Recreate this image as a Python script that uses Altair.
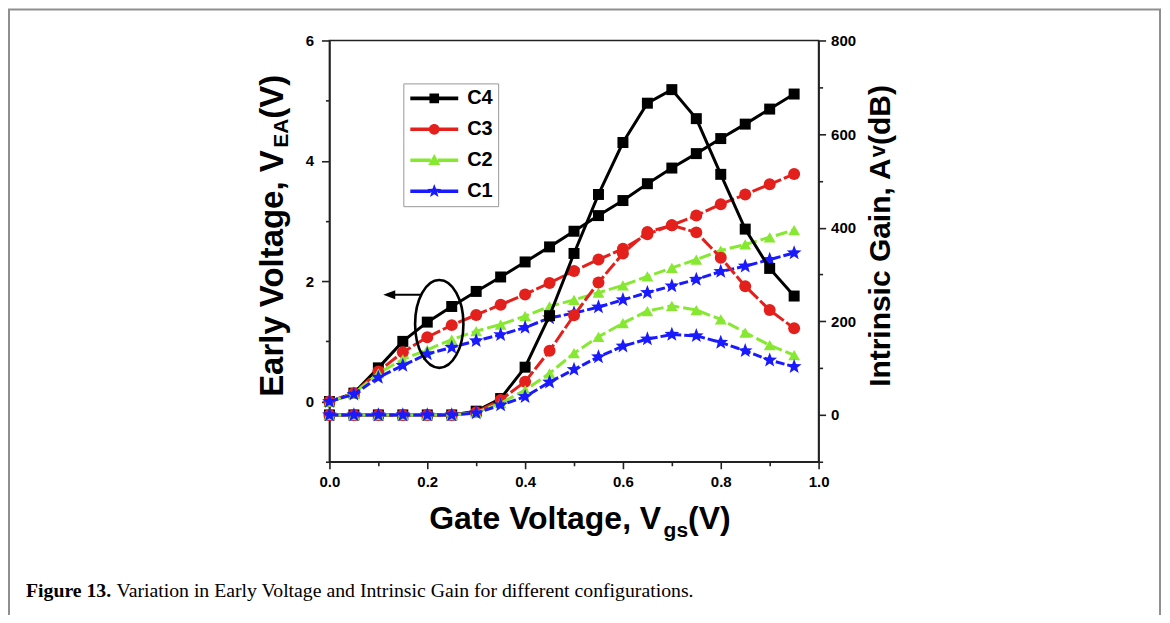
import math
import pandas as pd
import altair as alt

# ---------------- data ----------------
vgs = [0.0, 0.05, 0.1, 0.15, 0.2, 0.25, 0.3, 0.35, 0.4, 0.45,
       0.5, 0.55, 0.6, 0.65, 0.7, 0.75, 0.8, 0.85, 0.9, 0.95]
configs = ["C4", "C3", "C2", "C1"]

early_c4 = [0.0, 0.14, 0.56, 1.00, 1.32, 1.58, 1.83, 2.07, 2.32, 2.57,
            2.83, 3.09, 3.34, 3.62, 3.88, 4.12, 4.37, 4.61, 4.86, 5.11]
early_c3 = [0.0, 0.14, 0.50, 0.82, 1.07, 1.27, 1.44, 1.61, 1.78, 1.97,
            2.17, 2.36, 2.54, 2.78, 2.93, 3.09, 3.28, 3.44, 3.61, 3.78]
early_c2 = [0.0, 0.13, 0.47, 0.70, 0.86, 1.03, 1.17, 1.28, 1.42, 1.58,
            1.69, 1.81, 1.93, 2.08, 2.22, 2.36, 2.51, 2.61, 2.73, 2.85]
early_c1 = [0.0, 0.12, 0.40, 0.60, 0.79, 0.90, 1.01, 1.11, 1.23, 1.39,
            1.47, 1.57, 1.69, 1.81, 1.92, 2.03, 2.16, 2.25, 2.36, 2.47]

gain_c4 = [0, 0, 0, 0, 0, 0, 8, 35, 102, 212,
           345, 471, 582, 666, 695, 633, 514, 397, 313, 254]
gain_c3 = [0, 0, 0, 0, 0, 0, 6, 32, 71, 137,
           213, 283, 345, 391, 405, 390, 336, 275, 224, 185]
gain_c2 = [0, 0, 0, 0, 0, 0, 5, 25, 53, 89,
           132, 167, 196, 222, 233, 224, 204, 176, 149, 128]
gain_c1 = [0, 0, 0, 0, 0, 0, 4, 21, 39, 70,
           97, 124, 147, 162, 172, 169, 155, 137, 117, 103]

x_tick_values = [0.0, 0.1, 0.2, 0.3, 0.4, 0.5, 0.6, 0.7, 0.8, 0.9, 1.0]
left_tick_values = [-1, 0, 1, 2, 3, 4, 5, 6]
right_tick_values = [-100, 0, 100, 200, 300, 400, 500, 600, 700, 800]
x_domain = [0.0, 1.0]
left_domain = [-1, 6]
right_domain = [-100, 800]

# annotation (ellipse around early-voltage curves, arrow pointing to left axis)
ellipse_x = [0.2245]
ellipse_y = [1.29]
arrow_x = [0.118, 0.188]
arrow_tip_x = [0.110]
arrow_y = [1.775]

caption_bold = "Figure 13."
caption_rest = "Variation in Early Voltage and Intrinsic Gain for different configurations."

early = {"C4": early_c4, "C3": early_c3, "C2": early_c2, "C1": early_c1}
gain = {"C4": gain_c4, "C3": gain_c3, "C2": gain_c2, "C1": gain_c1}

# ---------------- styles ----------------
COLORS = {"C4": "#000000", "C3": "#e3201b", "C2": "#86e830", "C1": "#1a1aff"}
DASH = {"C4": None, "C3": [14, 3], "C2": [12, 4], "C1": [9, 3]}


def star_path(ro, ri):
    pts = []
    for k in range(10):
        ang = math.radians(-90 + 36 * k)
        r = ro if k % 2 == 0 else ri
        pts.append(f"{r * math.cos(ang):.3f},{r * math.sin(ang):.3f}")
    return "M" + "L".join(pts) + "Z"


MARKERS = {"C4": ("square", 121), "C3": ("circle", 144),
           "C2": ("triangle-up", 140), "C1": (star_path(1.0, 0.42), 240)}


def bar(x0, x1, h):
    return f"M{x0},{-h}H{x1}V{h}H{x0}Z"


line_part = bar(-3, -0.45, 0.22) + bar(0.45, 3, 0.22)
LEGEND_PATHS = [
    line_part + "M-0.6,-0.6H0.6V0.6H-0.6Z",
    line_part + "M0.68,0A0.68,0.68 0 1,1 -0.68,0A0.68,0.68 0 1,1 0.68,0Z",
    line_part + "M0,-0.78L0.75,0.58L-0.75,0.58Z",
    line_part + star_path(0.9, 0.38),
]

SANS = "Liberation Sans"
SERIF = "Liberation Serif"
AXIS_COMMON = dict(domainColor="#222", domainWidth=1.6, tickColor="#222", tickWidth=1.6,
                   labelFont=SANS, labelFontSize=15, labelFontWeight="bold",
                   labelColor="black", grid=False, title=None, labelOverlap=False)

x_axis = alt.Axis(orient="bottom", values=x_tick_values, labelFlush=False,
                  labelExpr="round(datum.value*10) % 2 == 0 ? format(datum.value, '.1f') : ''",
                  tickSize={"condition": {"test": "round(datum.value*10) % 2 == 0", "value": 7}, "value": 4},
                  labelPadding=6, **AXIS_COMMON)
left_axis = alt.Axis(orient="left", values=left_tick_values,
                     labelExpr="datum.value % 2 == 0 ? format(datum.value, 'd') : ''",
                     tickSize={"condition": {"test": "datum.value % 2 == 0", "value": 8}, "value": 4},
                     labelPadding=8, **AXIS_COMMON)
right_axis = alt.Axis(orient="right", values=right_tick_values,
                      labelExpr="datum.value % 200 == 0 ? format(datum.value, 'd') : ''",
                      tickSize={"condition": {"test": "datum.value % 200 == 0", "value": 7}, "value": 4},
                      labelPadding=5, **AXIS_COMMON)

X = alt.X("vgs:Q", scale=alt.Scale(domain=x_domain, nice=False, zero=False), axis=x_axis)
YL = alt.Y("early:Q", scale=alt.Scale(domain=left_domain, nice=False, zero=False), axis=left_axis)
YR = alt.Y("gain:Q", scale=alt.Scale(domain=right_domain, nice=False, zero=False), axis=right_axis)


def series_layers(yenc, field):
    layers = []
    for c in configs:
        sub = pd.DataFrame({"vgs": vgs, field: (early if field == "early" else gain)[c]})
        kw = dict(color=COLORS[c], strokeWidth=3)
        if DASH[c]:
            kw["strokeDash"] = DASH[c]
        layers.append(alt.Chart(sub).mark_line(**kw).encode(x=X, y=yenc))
        shp, sz = MARKERS[c]
        layers.append(alt.Chart(sub).mark_point(shape=shp, size=sz, filled=True, opacity=1,
                                                color=COLORS[c]).encode(x=X, y=yenc))
    return layers


left_layers = series_layers(YL, "early")
ellipse = alt.Chart(pd.DataFrame({"vgs": ellipse_x, "early": ellipse_y})).mark_point(
    shape="M0,-1A0.55,1 0 1,1 0,1A0.55,1 0 1,1 0,-1Z", size=7744, filled=False,
    color="black", strokeWidth=2.6, opacity=1).encode(x=X, y=YL)
arrow = alt.Chart(pd.DataFrame({"vgs": [arrow_x[0]], "vgs2": [arrow_x[1]], "early": arrow_y})).mark_rule(
    color="black", strokeWidth=2.2).encode(x=X, x2="vgs2:Q", y=YL)
arrow_head = alt.Chart(pd.DataFrame({"vgs": arrow_tip_x, "early": arrow_y})).mark_point(
    shape="M0,0L2,-0.75L2,0.75Z", size=144, filled=True, color="black", opacity=1).encode(x=X, y=YL)
left = alt.layer(*left_layers, ellipse, arrow, arrow_head)
right = alt.layer(*series_layers(YR, "gain"))

legend_kw = dict(orient="none", legendX=74, legendY=43, title=None, strokeColor="#999",
                 fillColor="white", padding=5, symbolSize=256, symbolOffset=16, labelOffset=23,
                 labelFont=SANS, labelFontSize=20, labelFontWeight="bold", labelColor="black",
                 rowPadding=11, symbolStrokeWidth=0, labelLimit=200)
legend_df = pd.DataFrame({"config": configs})
leg = alt.Chart(legend_df).mark_point(filled=True, opacity=1, size=256).encode(
    x=alt.value(-3000), y=alt.value(-3000),
    color=alt.Color("config:N", scale=alt.Scale(domain=configs, range=[COLORS[c] for c in configs]),
                    legend=alt.Legend(**legend_kw)),
    shape=alt.Shape("config:N", scale=alt.Scale(domain=configs, range=LEGEND_PATHS),
                    legend=alt.Legend(**legend_kw)),
)

# ---------------- text layout ----------------
AW = {' ': 278, '(': 333, ')': 333, ',': 278, '.': 278, 'A': 722, 'B': 722, 'E': 667, 'G': 778,
      'I': 278, 'V': 667, 'a': 556, 'c': 556, 'd': 611, 'e': 556, 'g': 611, 'i': 278, 'l': 278,
      'n': 611, 'o': 611, 'r': 389, 's': 556, 't': 333, 'y': 556, 'v': 556}
SBW = {'F': 611, 'i': 278, 'g': 500, 'u': 556, 'r': 444, 'e': 444, ' ': 250, '1': 500, '3': 500, '.': 250}


def tw(s, size, table=AW):
    return sum(table[ch] for ch in s) / 1000 * size


one = pd.DataFrame({"a": [0]})
texts = []


def txt(s, x, y, size, angle=0, bold=True, font=SANS):
    return alt.Chart(one).mark_text(fontSize=size, fontWeight="bold" if bold else "normal",
                                    angle=angle, align="left", baseline="alphabetic",
                                    font=font, color="black").encode(
        x=alt.value(x), y=alt.value(y), text=alt.value(s))


# left title (reads bottom to top)
pos = 357.0
for s, sz, shift in [("Early Voltage, V", 33, 0), ("EA", 21, 5), ("(V)", 33, 0)]:
    texts.append(txt(s, -47 + shift, pos, sz, angle=270))
    pos -= tw(s, sz)

# right title
pos = 347.0
for s, sz, shift in [("Intrinsic Gain, A", 30, 0), ("v", 22, -5), ("(dB)", 30, 0)]:
    texts.append(txt(s, 562 + shift, pos, sz, angle=270))
    pos -= tw(s, sz)

# bottom title
pos = 100.0
for s, sz, shift in [("Gate Voltage, V", 32, 0), ("gs", 21, 8), ("(V)", 32, 0)]:
    texts.append(txt(s, pos, 489 + shift, sz))
    pos += tw(s, sz)

# caption
cx = -304.0
texts.append(txt(caption_bold, cx, 557, 19.8, bold=True, font=SERIF))
texts.append(txt(caption_rest, cx + tw(caption_bold + " ", 19.8, SBW), 557, 19.8, bold=False, font=SERIF))

frame = alt.Chart(one).mark_rect(fillOpacity=0, stroke="#8f8f8f", strokeWidth=2).encode(
    x=alt.value(-321), x2=alt.value(832), y=alt.value(-31), y2=alt.value(640))

chart = alt.layer(frame, left, right, leg, *texts).resolve_scale(y="independent").properties(
    width=490, height=422,
    autosize=alt.AutoSizeParams(type="none"),
    padding={"left": 322, "top": 32, "right": 344, "bottom": 153},
).configure_view(stroke="#222", strokeWidth=1.6)

chart.save("out.html", embed_options={"renderer": "svg", "actions": False})
